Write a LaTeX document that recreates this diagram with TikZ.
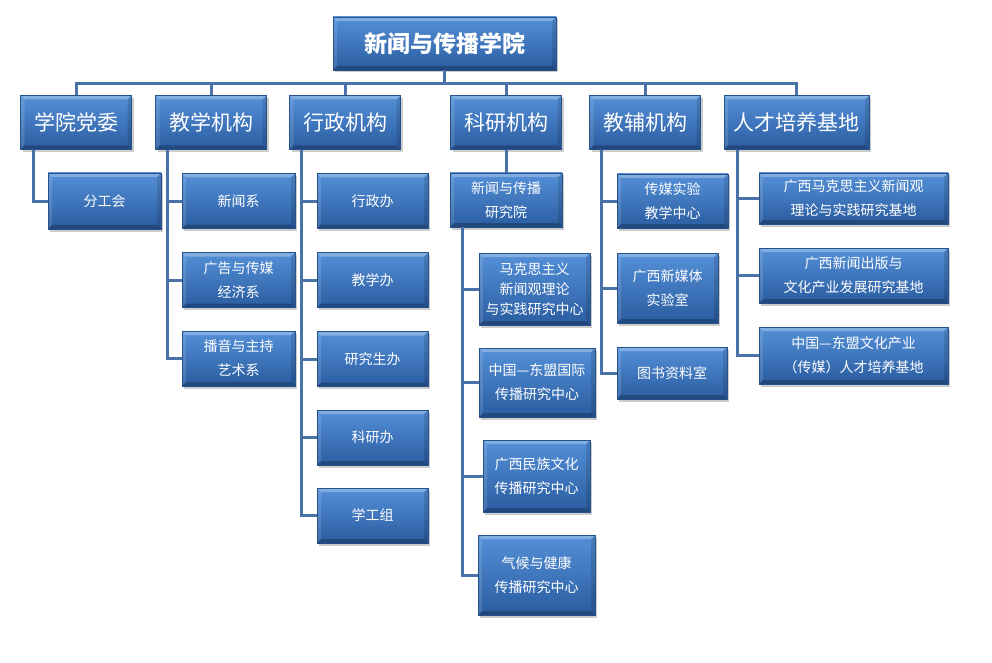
\documentclass[tikz,border=0pt]{standalone}
\usepackage{fontspec}
\setmainfont{Noto Sans CJK SC}
\usetikzlibrary{shadows}

\definecolor{boxtop}{RGB}{84,144,216}
\definecolor{boxbot}{RGB}{42,92,160}
\definecolor{boxedge}{RGB}{38,82,140}
\definecolor{linkblue}{RGB}{72,114,168}

\tikzset{
  unit/.style={draw=boxedge, line width=0.6pt, top color=boxtop, bottom color=boxbot,
    text=white, align=center, inner sep=0pt,
    drop shadow={shadow xshift=2pt, shadow yshift=-2.5pt, opacity=0.4},
    path picture={
      % bevel: light top and left, dark bottom and right
      \fill[white,opacity=0.28] (path picture bounding box.north west) -- (path picture bounding box.north east)
        -- ([xshift=-4pt,yshift=-4pt]path picture bounding box.north east)
        -- ([xshift=4pt,yshift=-4pt]path picture bounding box.north west) -- cycle;
      \fill[white,opacity=0.12] (path picture bounding box.north west) -- ([xshift=4pt,yshift=-4pt]path picture bounding box.north west)
        -- ([xshift=4pt,yshift=4pt]path picture bounding box.south west) -- (path picture bounding box.south west) -- cycle;
      \fill[black,opacity=0.22] (path picture bounding box.south west) -- (path picture bounding box.south east)
        -- ([xshift=-4pt,yshift=4pt]path picture bounding box.south east)
        -- ([xshift=4pt,yshift=4pt]path picture bounding box.south west) -- cycle;
      \fill[black,opacity=0.12] (path picture bounding box.north east) -- ([xshift=-4pt,yshift=-4pt]path picture bounding box.north east)
        -- ([xshift=-4pt,yshift=4pt]path picture bounding box.south east) -- (path picture bounding box.south east) -- cycle;
    }},
  head/.style={unit, minimum width=223pt, minimum height=53pt, font=\fontsize{23}{28}\selectfont\bfseries},
  dept/.style={unit, minimum width=111pt, minimum height=54pt, font=\fontsize{21}{26}\selectfont},
  sub/.style 2 args={unit, minimum width=#1pt, minimum height=#2pt, font=\fontsize{14}{24}\selectfont},
  link/.style={draw=linkblue, line width=3pt}
}

\begin{document}
\begin{tikzpicture}[x=1pt,y=-1pt]
\useasboundingbox (0,0) rectangle (992,663);

% top
\node[head] (xy) at (444.5,43.5) {新闻与传播学院};
\coordinate (bus) at (0,84);

% second row
\node[dept] (xydw) at (76,122.5) {学院党委};
\node[dept] (jxjg) at (211,122.5) {教学机构};
\node[dept] (xzjg) at (345,122.5) {行政机构};
\node[dept] (kyjg) at (506,122.5) {科研机构};
\node[dept] (jfjg) at (645,122.5) {教辅机构};
\node[dept, minimum width=145pt] (rcjd) at (796.5,122.5) {人才培养基地};

\foreach \d in {xydw,jxjg,xzjg,kyjg,jfjg,rcjd}
  \draw[link] (xy.south) -- (xy.south |- bus) -| (\d.north);

% xueyuan dangwei
\node[sub={113}{56}] (fgh) at (104.5,201) {分工会};
\draw[link] ([xshift=13pt]xydw.south west) |- (fgh.west);

% jiaoxue
\node[sub={113}{55}] (xwx) at (238.5,201) {新闻系};
\node[sub={113}{55}] (ggx) at (238.5,280) {广告与传媒\\经济系};
\node[sub={113}{55}] (byx) at (238.5,358.5) {播音与主持\\艺术系};
\foreach \c in {xwx,ggx,byx}
  \draw[link] ([xshift=12pt]jxjg.south west) |- (\c.west);

% xingzheng
\node[sub={111}{55}] (xzb) at (372.5,201) {行政办};
\node[sub={111}{55}] (jxb) at (372.5,280) {教学办};
\node[sub={111}{55}] (yjsb) at (372.5,359) {研究生办};
\node[sub={111}{55}] (kyb) at (372.5,437.5) {科研办};
\node[sub={111}{55}] (xgz) at (372.5,515.5) {学工组};
\foreach \c in {xzb,jxb,yjsb,kyb,xgz}
  \draw[link] ([xshift=12pt]xzjg.south west) |- (\c.west);

% keyan
\node[sub={112}{54}] (yjy) at (506,200) {新闻与传播\\研究院};
\draw[link] (kyjg) -- (yjy);
\node[sub={111}{72}, font=\fontsize{14}{20}\selectfont] (mks) at (534.5,289) {马克思主义\\新闻观理论\\与实践研究中心};
\node[sub={116}{69}] (dmgj) at (537,382.5) {中国—东盟国际\\传播研究中心};
\node[sub={107}{72}] (mzwh) at (536.5,476) {广西民族文化\\传播研究中心};
\node[sub={117}{80}] (qhjk) at (536.5,575) {气候与健康\\传播研究中心};
\foreach \c in {mks,dmgj,mzwh,qhjk}
  \draw[link] ([xshift=13pt]yjy.south west) |- (\c.west);

% jiaofu
\node[sub={111}{54}] (cmsy) at (672.5,201) {传媒实验\\教学中心};
\node[sub={101}{70}] (xmt) at (667.5,288) {广西新媒体\\实验室};
\node[sub={110}{52}] (tszl) at (672,373) {图书资料室};
\foreach \c in {cmsy,xmt,tszl}
  \draw[link] ([xshift=12pt]jfjg.south west) |- (\c.west);

% rencai peiyang
\node[sub={189}{51}] (mksjd) at (853.5,198.5) {广西马克思主义新闻观\\理论与实践研究基地};
\node[sub={189}{55}] (cbjd) at (853.5,275.5) {广西新闻出版与\\文化产业发展研究基地};
\node[sub={189}{57}] (rcpy) at (853.5,355.5) {中国—东盟文化产业\\（传媒）人才培养基地};
\foreach \c in {mksjd,cbjd,rcpy}
  \draw[link] ([xshift=14pt]rcjd.south west) |- (\c.west);

\end{tikzpicture}
\end{document}
